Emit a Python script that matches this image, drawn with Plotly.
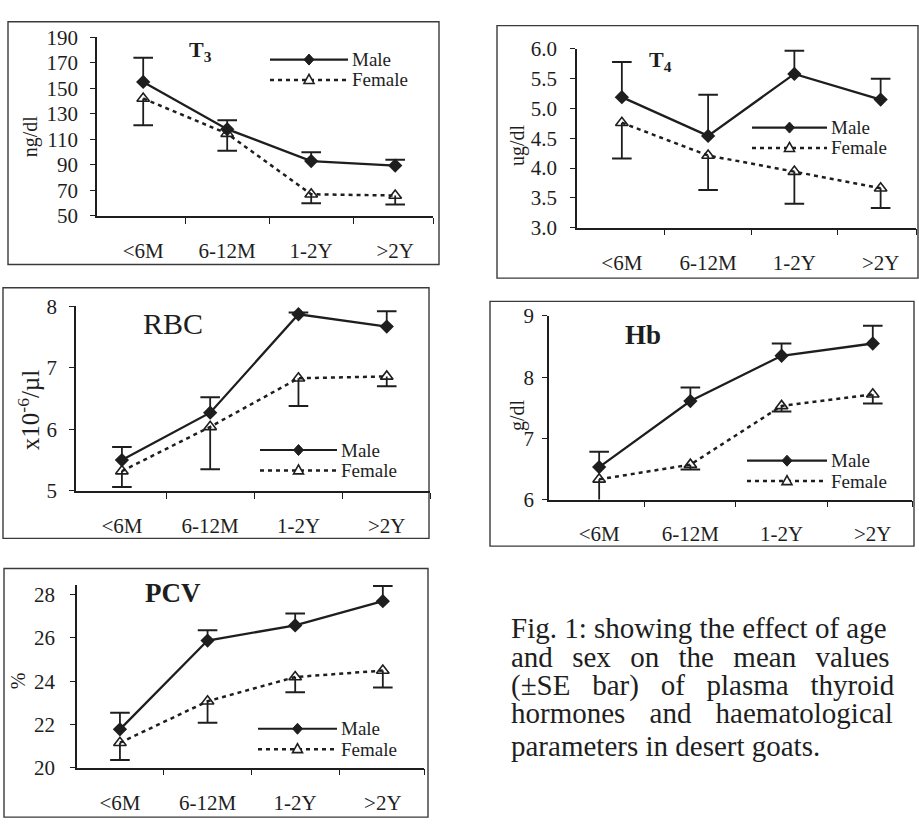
import plotly.graph_objects as go

W, H = 919, 833
FONT = "Liberation Serif"
INK = "#1e1e1e"

# ---------------- data ----------------
categories = ["<6M", "6-12M", "1-2Y", ">2Y"]

t3_male = [155, 118, 93, 89.5]
t3_male_se = [19, 7, 7, 4.5]
t3_female = [142, 114.5, 67, 66]
t3_female_se = [21, 13.5, 7, 7]
t3_yticks = [50, 70, 90, 110, 130, 150, 170, 190]

t4_male = [5.19, 4.54, 5.58, 5.15]
t4_male_se = [0.59, 0.69, 0.39, 0.35]
t4_female = [4.76, 4.21, 3.94, 3.66]
t4_female_se = [0.60, 0.58, 0.54, 0.33]
t4_yticks = [3.0, 3.5, 4.0, 4.5, 5.0, 5.5, 6.0]

rbc_male = [5.50, 6.27, 7.87, 7.67]
rbc_male_se = [0.21, 0.25, 0.03, 0.25]
rbc_female = [5.32, 6.04, 6.83, 6.86]
rbc_female_se = [0.26, 0.69, 0.45, 0.16]
rbc_yticks = [5, 6, 7, 8]

hb_male = [6.53, 7.61, 8.35, 8.55]
hb_male_se = [0.25, 0.22, 0.20, 0.29]
hb_female = [6.33, 6.57, 7.53, 7.72]
hb_female_se = [0.43, 0.08, 0.09, 0.15]
hb_yticks = [6, 7, 8, 9]

pcv_male = [21.77, 25.88, 26.58, 27.70]
pcv_male_se = [0.77, 0.48, 0.55, 0.70]
pcv_female = [21.15, 23.07, 24.19, 24.49]
pcv_female_se = [0.80, 1.00, 0.70, 0.78]
pcv_yticks = [20, 22, 24, 26, 28]

G2 = "\u2004\u2004"
G3 = "\u2004\u2004\u200a"
G4 = "\u2002\u2004"
caption_lines = [
    "Fig. 1: showing the effect of age",
    G2.join(["and", "sex", "on", "the", "mean", "values"]),
    G3.join(["(±SE", "bar)", "of", "plasma", "thyroid"]),
    G4.join(["hormones", "and", "haematological"]),
    "parameters in desert goats.",
]

# ---------------- layout helpers ----------------
def px(x):
    return x / W

def py(y):
    return 1 - y / H

panels = [
    dict(male=t3_male, mse=t3_male_se, female=t3_female, fse=t3_female_se,
         yticks=t3_yticks, yfmt="{:.0f}", yrange=[50, 190],
         xdom=(97, 433), ydom=(26, 210), xrange=[-0.55, 3.45], ystand=8,
         title="<b>T<sub>3</sub></b>", tpos=(200, 40), tsize=22,
         ylabel="ng/dl", lpos=(30, 128), lsize=20,
         leg=(270, 348, 49, 70), box=(8, 10, 439, 260)),
    dict(male=t4_male, mse=t4_male_se, female=t4_female, fse=t4_female_se,
         yticks=t4_yticks, yfmt="{:.1f}", yrange=[3, 6],
         xdom=(577, 916), ydom=(38, 222), xrange=[-0.52, 3.41], ystand=9,
         title="<b>T<sub>4</sub></b>", tpos=(660, 50), tsize=22,
         ylabel="ug/dl", lpos=(517, 137), lsize=20,
         leg=(752, 827, 119, 140), box=(497, 14, 918, 274)),
    dict(male=rbc_male, mse=rbc_male_se, female=rbc_female, fse=rbc_female_se,
         yticks=rbc_yticks, yfmt="{:.0f}", yrange=[5, 8],
         xdom=(76, 430), ydom=(303, 493), xrange=[-0.52, 3.49], ystand=8,
         title="RBC", tpos=(173, 321), tsize=30,
         ylabel="x10<sup>-6</sup>/µl", lpos=(29, 410), lsize=25,
         leg=(260, 337, 451, 472), box=(3, 284, 429, 542)),
    dict(male=hb_male, mse=hb_male_se, female=hb_female, fse=hb_female_se,
         yticks=hb_yticks, yfmt="{:.0f}", yrange=[6, 9],
         xdom=(549, 912), ydom=(313, 502), xrange=[-0.55, 3.43], ystand=4,
         title="<b>Hb</b>", tpos=(643, 333), tsize=27,
         ylabel="g/dl", lpos=(517, 415), lsize=20,
         leg=(747, 827, 462, 483), box=(490, 298, 914, 550)),
    dict(male=pcv_male, mse=pcv_male_se, female=pcv_female, fse=pcv_female_se,
         yticks=pcv_yticks, yfmt="{:.0f}", yrange=[20, 28.45],
         xdom=(77, 424), ydom=(590, 778), xrange=[-0.49, 3.47], ystand=11,
         title="<b>PCV</b>", tpos=(173, 598), tsize=27,
         ylabel="%", lpos=(18, 689), lsize=20,
         leg=(258, 337, 738, 759), box=(4, 573, 428, 829)),
]

fig = go.Figure()
shapes = []
annotations = []
xpos = list(range(len(categories)))

for k, p in enumerate(panels, start=1):
    xa = "x" if k == 1 else f"x{k}"
    ya = "y" if k == 1 else f"y{k}"
    male_hi = [m + s for m, s in zip(p["male"], p["mse"])]
    female_lo = [f - s for f, s in zip(p["female"], p["fse"])]

    # male series, SE drawn upward
    fig.add_trace(go.Scatter(
        x=xpos, y=p["male"], xaxis=xa, yaxis=ya, mode="lines+markers",
        name="Male", showlegend=False,
        line=dict(color=INK, width=2.3),
        marker=dict(symbol="diamond", size=11, color=INK),
        error_y=dict(type="data", symmetric=False, array=p["mse"],
                     arrayminus=[0] * len(xpos), width=0, thickness=1.8, color=INK)))
    fig.add_trace(go.Scatter(
        x=xpos, y=male_hi, xaxis=xa, yaxis=ya, mode="markers", showlegend=False,
        hoverinfo="skip",
        marker=dict(symbol="line-ew", size=14, line=dict(color=INK, width=2))))
    # female series, SE drawn downward
    fig.add_trace(go.Scatter(
        x=xpos, y=p["female"], xaxis=xa, yaxis=ya, mode="lines+markers",
        name="Female", showlegend=False,
        line=dict(color=INK, width=2.5, dash="4px,4px"),
        marker=dict(symbol="triangle-up-open", size=11, color=INK,
                    line=dict(color=INK, width=1.6)),
        error_y=dict(type="data", symmetric=False, array=[0] * len(xpos),
                     arrayminus=p["fse"], width=0, thickness=1.8, color=INK)))
    fig.add_trace(go.Scatter(
        x=xpos, y=female_lo, xaxis=xa, yaxis=ya, mode="markers", showlegend=False,
        hoverinfo="skip",
        marker=dict(symbol="line-ew", size=14, line=dict(color=INK, width=2))))

    minor_vals = [0.5, 1.5, 2.5, p["xrange"][1]]
    fig.update_layout(**{
        ("xaxis" if k == 1 else f"xaxis{k}"): dict(
            domain=[px(p["xdom"][0]), px(p["xdom"][1])], range=p["xrange"],
            anchor=ya, tickmode="array", tickvals=xpos, ticktext=categories,
            ticks="", showline=True, linecolor=INK, linewidth=1.5,
            showgrid=False, zeroline=False, fixedrange=True,
            tickfont=dict(family=FONT, size=21, color=INK),
            ticklabelstandoff=15,
            minor=dict(tickmode="array", tickvals=minor_vals, ticks="outside",
                       ticklen=6, tickwidth=1.3, tickcolor=INK, showgrid=False)),
        ("yaxis" if k == 1 else f"yaxis{k}"): dict(
            domain=[py(p["ydom"][1]), py(p["ydom"][0])], range=p["yrange"],
            anchor=xa, tickmode="array", tickvals=p["yticks"],
            ticktext=[p["yfmt"].format(v) for v in p["yticks"]],
            ticks="outside", ticklen=5, tickwidth=1.3, tickcolor=INK,
            showline=True, linecolor=INK, linewidth=1.5,
            showgrid=False, zeroline=False, fixedrange=True,
            tickfont=dict(family=FONT, size=21, color=INK),
            ticklabelstandoff=p["ystand"]),
    })

    # outer panel frame
    bx0, by0, bx1, by1 = p["box"]
    shapes.append(dict(type="rect", xref="paper", yref="paper",
                       x0=px(bx0), x1=px(bx1), y0=py(by1), y1=py(by0),
                       line=dict(color="#3a3a3a", width=1.4), layer="below"))

    # panel title and y label
    annotations.append(dict(text=p["title"], xref="paper", yref="paper",
                            x=px(p["tpos"][0]), y=py(p["tpos"][1]),
                            xanchor="center", yanchor="middle", showarrow=False,
                            font=dict(family=FONT, size=p["tsize"], color=INK)))
    annotations.append(dict(text=p["ylabel"], xref="paper", yref="paper",
                            x=px(p["lpos"][0]), y=py(p["lpos"][1]),
                            xanchor="center", yanchor="middle", showarrow=False,
                            textangle=-90,
                            font=dict(family=FONT, size=p["lsize"], color=INK)))

    # compact in-panel legend
    lx0, lx1, lym, lyf = p["leg"]
    lxc = (lx0 + lx1) / 2
    shapes.append(dict(type="line", xref="paper", yref="paper",
                       x0=px(lx0), x1=px(lx1), y0=py(lym), y1=py(lym),
                       line=dict(color=INK, width=2.2), layer="above"))
    shapes.append(dict(type="line", xref="paper", yref="paper",
                       x0=px(lx0), x1=px(lx1), y0=py(lyf), y1=py(lyf),
                       line=dict(color=INK, width=2.5, dash="4px,4px"), layer="above"))
    shapes.append(dict(type="path", xref="paper", yref="paper",
                       xsizemode="pixel", ysizemode="pixel",
                       xanchor=px(lxc), yanchor=py(lym),
                       path="M0,5.5L5,0L0,-5.5L-5,0Z",
                       fillcolor=INK, line=dict(color=INK, width=1), layer="above"))
    shapes.append(dict(type="path", xref="paper", yref="paper",
                       xsizemode="pixel", ysizemode="pixel",
                       xanchor=px(lxc), yanchor=py(lyf),
                       path="M0,5.5L5,-3.5L-5,-3.5Z",
                       fillcolor="white", line=dict(color=INK, width=1.6), layer="above"))
    for label, yy in (("Male", lym), ("Female", lyf)):
        annotations.append(dict(text=label, xref="paper", yref="paper",
                                x=px(lx1 + 2), y=py(yy), xanchor="left",
                                yanchor="middle", showarrow=False,
                                font=dict(family=FONT, size=19, color=INK)))

# caption
cap_baselines = [643, 673, 702, 731, 765]
for line, base in zip(caption_lines, cap_baselines):
    annotations.append(dict(text=line, xref="paper", yref="paper",
                            x=px(509), y=py(base - 9), xanchor="left",
                            yanchor="middle", showarrow=False,
                            font=dict(family=FONT, size=29, color=INK)))

fig.update_layout(
    width=W, height=H, autosize=False,
    margin=dict(l=0, r=0, t=0, b=0),
    paper_bgcolor="white", plot_bgcolor="rgba(0,0,0,0)",
    showlegend=False,
    shapes=shapes, annotations=annotations,
    font=dict(family=FONT, color=INK),
)

fig.write_html(
    "out.html",
    config={"displayModeBar": False},
    post_script="document.body.style.margin='0';document.body.style.overflow='hidden';",
)
